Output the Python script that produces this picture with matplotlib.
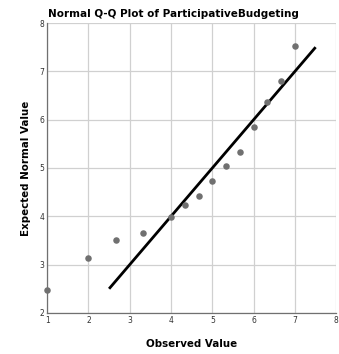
import matplotlib.pyplot as plt

observed = [1.0, 2.0, 2.67, 3.33, 4.0, 4.33, 4.67, 5.0, 5.33, 5.67, 6.0, 6.33, 6.67, 7.0]
expected = [2.48, 3.13, 3.5, 3.65, 3.99, 4.24, 4.42, 4.73, 5.04, 5.34, 5.84, 6.37, 6.79, 7.53]
line_x = [2.5, 7.5]
line_y = [2.5, 7.5]

plt.rcParams['font.family'] = ['DejaVu Sans']

fig = plt.figure(figsize=(3.39, 3.54), dpi=100)
ax = fig.add_axes([0.139, 0.116, 0.853, 0.819])

ax.plot(line_x, line_y, color="black", lw=2, zorder=3, solid_capstyle="butt")
ax.scatter(observed, expected, s=22, color="#707070", zorder=4, clip_on=False, linewidths=0)

ax.set_xlim(1, 8)
ax.set_ylim(2, 8)
ax.set_xticks(range(1, 9))
ax.set_yticks(range(2, 9))
ax.tick_params(labelsize=5.5, length=0, pad=2, colors="#333333")
ax.grid(True, color="#d0d0d0", lw=0.9)
ax.set_axisbelow(True)
for s in ["top", "right"]:
    ax.spines[s].set_visible(False)
for s in ["left", "bottom"]:
    ax.spines[s].set_color("#707070")
    ax.spines[s].set_linewidth(0.9)

fig.text(0.513, 0.945, "Normal Q-Q Plot of ParticipativeBudgeting", fontsize=7.5,
         fontweight="bold", ha="center", va="bottom")
ax.set_xlabel("Observed Value", fontsize=7.4, fontweight="bold", labelpad=10)
ax.set_ylabel("Expected Normal Value", fontsize=7.4, fontweight="bold", labelpad=6)

fig.savefig("out.png", dpi=100)
